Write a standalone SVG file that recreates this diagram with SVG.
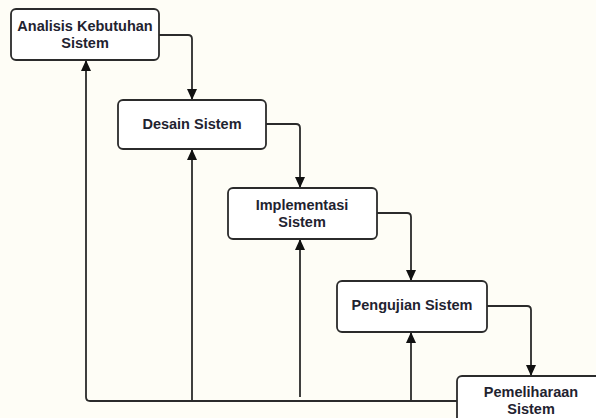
<svg xmlns="http://www.w3.org/2000/svg" width="596" height="418" viewBox="0 0 596 418">
<style>
.box{fill:#ffffff;stroke:#2b2b2b;stroke-width:1.8}
.lbl{font-family:"Liberation Sans",Arial,sans-serif;font-weight:bold;font-size:14.5px;fill:#1f2330;text-anchor:middle}
.ln{fill:none;stroke:#2b2b2b;stroke-width:1.8}
</style>
<defs>
<marker id="ah" viewBox="0 0 11 10" refX="11" refY="5" markerWidth="11" markerHeight="10" markerUnits="userSpaceOnUse" orient="auto">
<path d="M0,0 L11,5 L0,10 Z" fill="#111"/>
</marker>
</defs>
<rect width="596" height="418" fill="#fefdf6"/>
<g id="connectors">
<path class="ln" d="M159,35 H188 Q192,35 192,39 V100" marker-end="url(#ah)"/>
<path class="ln" d="M266,124 H296 Q300,124 300,128 V188" marker-end="url(#ah)"/>
<path class="ln" d="M377,213 H407 Q411,213 411,217 V281" marker-end="url(#ah)"/>
<path class="ln" d="M487,306 H527 Q531,306 531,310 V376" marker-end="url(#ah)"/>
<path class="ln" d="M457,401 H90 Q86,401 86,397 V60" marker-end="url(#ah)"/>
<path class="ln" d="M192,401 V149" marker-end="url(#ah)"/>
<path class="ln" d="M300,397 V239" marker-end="url(#ah)"/>
<path class="ln" d="M411,401 V332" marker-end="url(#ah)"/>
</g>
<g id="n1">
<rect class="box" x="11" y="9" width="148" height="51" rx="5"/>
<text class="lbl" x="85" y="31">Analisis Kebutuhan</text>
<text class="lbl" x="85" y="48">Sistem</text>
</g>
<g id="n2">
<rect class="box" x="118" y="100" width="148" height="49" rx="5"/>
<text class="lbl" x="192" y="129">Desain Sistem</text>
</g>
<g id="n3">
<rect class="box" x="228" y="188" width="149" height="51" rx="5"/>
<text class="lbl" x="302" y="210">Implementasi</text>
<text class="lbl" x="302" y="227">Sistem</text>
</g>
<g id="n4">
<rect class="box" x="337" y="281" width="150" height="51" rx="5"/>
<text class="lbl" x="412" y="310">Pengujian Sistem</text>
</g>
<g id="n5">
<rect class="box" x="457" y="376" width="150" height="51" rx="5"/>
<text class="lbl" x="531" y="397">Pemeliharaan</text>
<text class="lbl" x="531" y="414">Sistem</text>
</g>
</svg>
